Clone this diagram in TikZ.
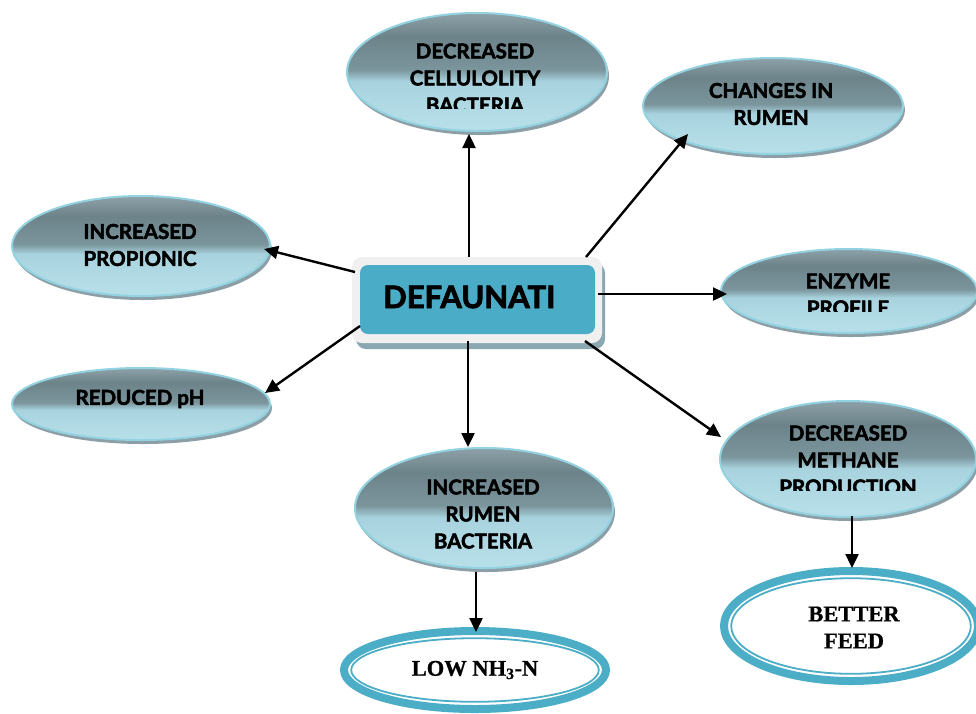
\documentclass[tikz,border=0pt]{standalone}
\usepackage{fontspec}
\setmainfont{Lato}[BoldFeatures={FakeBold=2.5}]
\newfontfamily\serifbold{Liberation Serif}[BoldFeatures={FakeBold=0.8}]
\usetikzlibrary{shapes.geometric,arrows.meta,calc}
\definecolor{eL}{HTML}{B8E0EA}
\definecolor{eL2}{HTML}{A8D3DE}
\definecolor{eM}{HTML}{7B959D}
\definecolor{eD}{HTML}{6D838A}
\definecolor{eT}{HTML}{8DA1A8}
\definecolor{eOut}{HTML}{93D2E0}
\definecolor{eSh}{HTML}{8C9FA6}
\definecolor{teal}{HTML}{4BADC6}
\definecolor{boxblue}{HTML}{4AACC6}
\definecolor{boxrim}{HTML}{F0F0F0}
\definecolor{boxsh}{HTML}{8AA8B2}
\pgfdeclareverticalshading{ellshade}{100bp}{color(0bp)=(eL); color(25bp)=(eL); color(46bp)=(eL2); color(51bp)=(eM); color(65bp)=(eD); color(75bp)=(eT); color(100bp)=(eT)}
\tikzset{
  ellnode/.style={ellipse, draw=eOut, line width=2pt, shading=ellshade, inner sep=0pt},
  shadnode/.style={ellipse, fill=eSh, inner sep=0pt},
  etext/.style={align=center, inner sep=0pt, font=\fontsize{20.5}{27}\selectfont\bfseries, text=black},
  ftext/.style={align=center, inner sep=0pt, font=\fontsize{22.5}{27}\selectfont\serifbold\bfseries, text=black},
  arr/.style={line width=2.4pt, -{Triangle[length=14pt,width=13pt]}},
  ringout/.style={ellipse, draw=teal, line width=8pt, inner sep=0pt, fill=white},
  ringin/.style={ellipse, draw=teal, line width=1.8pt, inner sep=0pt},
}
\newcommand\glossell[5]{%
  \node[shadnode, minimum width=#4*2pt, minimum height=#5*2pt] (#1s) at (#2+2,#3+4) {};
  \node[ellnode, minimum width=#4*2pt, minimum height=#5*2pt] (#1) at (#2,#3) {};
}
\begin{document}
\begin{tikzpicture}[x=1pt,y=-1pt]
\useasboundingbox (0,0) rectangle (976,713);
\clip (0,0) rectangle (976,713);

% gloss ellipses
\glossell{cell}{477}{72}{130}{59}
\glossell{chg}{773}{106}{130}{48}
\glossell{prop}{141}{246}{129}{50}
\glossell{enz}{849}{291}{128}{42}
\glossell{ph}{141}{404}{129}{36}
\glossell{rum}{484}{508}{129}{60}
\glossell{meth}{848}{459}{128}{58}

% double ring ellipses
\node[ringout, minimum width=262pt, minimum height=78pt] (low) at (475,670) {};
\node[ringin, minimum width=247.6pt, minimum height=63.6pt] (lowin) at (low.center) {};
\node[ringout, minimum width=254pt, minimum height=110pt] (feed) at (851,626) {};
\node[ringin, minimum width=239.6pt, minimum height=95.6pt] (feedin) at (feed.center) {};

% central box
\fill[boxsh, rounded corners=10pt] (356,263) rectangle (605,349);
\node[draw=none, fill=boxrim, rounded corners=10pt, minimum width=250pt, minimum height=86pt, inner sep=0pt] (box) at (477,300) {};
\node[fill=boxblue, rounded corners=8pt, minimum width=235pt, minimum height=69pt, inner sep=0pt] (boxin) at (477.5,299.5) {};
\node[anchor=west, inner sep=0pt, font=\fontsize{31}{33}\selectfont\bfseries] (deftxt) at (383,297) {DEFAUNATI};

% texts
\begin{scope}
  \clip (340,0) rectangle (620,108);
  \node[etext] (cellt) at (475,78) {DECREASED\\CELLULOLITY\\BACTERIA};
\end{scope}
\node[etext] (chgt) at (771,104) {CHANGES IN\\RUMEN};
\node[etext] (propt) at (140,245) {INCREASED\\PROPIONIC};
\begin{scope}
  \clip (720,250) rectangle (976,311);
  \node[etext] (enzt) at (848,294.5) {ENZYME\\PROFILE};
\end{scope}
\node[etext] (pht) at (140,399) {REDUCED pH};
\node[etext] (rumt) at (483,514) {INCREASED\\RUMEN\\BACTERIA};
\begin{scope}
  \clip (720,400) rectangle (976,490);
  \node[etext] (metht) at (848,460) {DECREASED\\METHANE\\PRODUCTION};
\end{scope}
\node[ftext] (feedt) at (854,627.5) {BETTER\\FEED};
\node[ftext] (lowt) at (475,670) {LOW NH\textsubscript{3}-N};

% connectors
\draw[arr] ($(box.north)+(-8,0)$) -- ($(cell.center)+(-8,62)$);
\draw[arr] ($(box.center)+(109,-43)$) -- ($(chg.center)+(-85,28)$);
\draw[arr] ($(box.center)+(-122,-28)$) -- ($(prop.center)+(123,3)$);
\draw[arr] ($(box.center)+(-117,26)$) -- ($(ph.center)+(124,-11)$);
\draw[arr] ($(box.center)+(121,-6)$) -- ($(enz.center)+(-122,3)$);
\draw[arr] ($(box.center)+(108,41)$) -- ($(meth.center)+(-127,-22)$);
\draw[arr] ($(box.center)+(-9,41)$) -- ($(rum.center)+(-16,-61)$);
\draw[arr] ($(rum.center)+(-8,64)$) -- ($(low.center)+(1,-38)$);
\draw[arr] ($(meth.center)+(4,57)$) -- ($(feed.center)+(1,-58)$);
\end{tikzpicture}
\end{document}
